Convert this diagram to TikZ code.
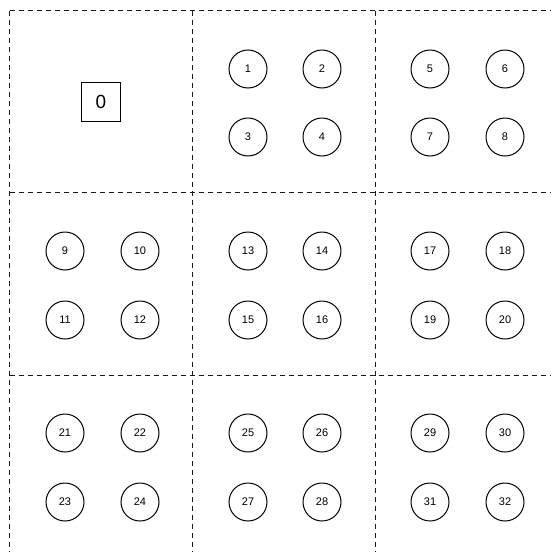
\documentclass[tikz,border=0pt]{standalone}
\usepackage{fontspec}
\setmainfont{Liberation Sans}
\usetikzlibrary{positioning}
\tikzset{
  cellline/.style={dash pattern=on 5pt off 4pt, line width=1.2pt, draw=black!90},
  nd/.style={circle, draw, line width=1pt, minimum size=38pt, inner sep=0pt, font=\fontsize{11}{13}\selectfont},
  rootbox/.style={draw, line width=1pt, minimum size=39pt, inner sep=0pt, font=\fontsize{19}{21}\selectfont}
}

\begin{document}
\begin{tikzpicture}[x=1pt,y=-1pt]
\useasboundingbox (0,0) rectangle (551,552);
% cell grid
\draw[cellline] (9.5,10.5) -- (551,10.5);
\draw[cellline] (9.5,192.5) -- (551,192.5);
\draw[cellline] (9.5,375.5) -- (551,375.5);
\draw[cellline] (9.5,10.5) -- (9.5,552);
\draw[cellline] (192.5,10.5) -- (192.5,552);
\draw[cellline] (375.5,10.5) -- (375.5,552);
% root
\draw(101,102) node[rootbox] (n0) {0};
% first row
\draw(248,69) node[nd] (n1) {1};
\draw(322,69) node[nd] (n2) {2};
\draw(248,137) node[nd] (n3) {3};
\draw(322,137) node[nd] (n4) {4};
\draw(430,69) node[nd] (n5) {5};
\draw(505,69) node[nd] (n6) {6};
\draw(430,137) node[nd] (n7) {7};
\draw(505,137) node[nd] (n8) {8};
% second row
\draw(65,251) node[nd] (n9) {9};
\draw(140,251) node[nd] (n10) {10};
\draw(65,320) node[nd] (n11) {11};
\draw(140,320) node[nd] (n12) {12};
\draw(248,251) node[nd] (n13) {13};
\draw(322,251) node[nd] (n14) {14};
\draw(248,320) node[nd] (n15) {15};
\draw(322,320) node[nd] (n16) {16};
\draw(430,251) node[nd] (n17) {17};
\draw(505,251) node[nd] (n18) {18};
\draw(430,320) node[nd] (n19) {19};
\draw(505,320) node[nd] (n20) {20};
% third row
\draw(65,433) node[nd] (n21) {21};
\draw(140,433) node[nd] (n22) {22};
\draw(65,502) node[nd] (n23) {23};
\draw(140,502) node[nd] (n24) {24};
\draw(248,433) node[nd] (n25) {25};
\draw(322,433) node[nd] (n26) {26};
\draw(248,502) node[nd] (n27) {27};
\draw(322,502) node[nd] (n28) {28};
\draw(430,433) node[nd] (n29) {29};
\draw(505,433) node[nd] (n30) {30};
\draw(430,502) node[nd] (n31) {31};
\draw(505,502) node[nd] (n32) {32};
\end{tikzpicture}
\end{document}
